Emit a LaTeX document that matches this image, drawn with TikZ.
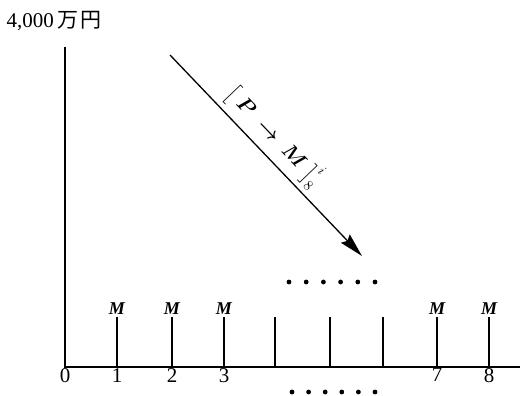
\documentclass[tikz,border=0pt]{standalone}
\usepackage{fontspec}
\setmainfont{Liberation Serif}
\newfontfamily\cjk{Noto Sans CJK JP}
\usepackage{amsmath}
\usepackage{bm}
\usetikzlibrary{arrows.meta,positioning}

\begin{document}
\begin{tikzpicture}[
  x=1pt, y=-1pt,
  every node/.style={font=\fontsize{21}{23}\selectfont},
  axis/.style={line width=2.6pt},
  bar/.style={line width=1.3pt},
  mlabel/.style={font=\fontsize{18}{20}\selectfont\bfseries\itshape, inner sep=2pt},
  numlabel/.style={below, inner sep=1pt},
  >=Stealth
]

\useasboundingbox (0,0) rectangle (520,396);

\node[anchor=west] (title) at (3,21) {4,000\kern4pt{\cjk\fontsize{21}{23}\selectfont 万\kern2pt 円}};

% Axes
\coordinate (origin) at (65,367);
\coordinate (ytop) at (65,47);
\coordinate (xend) at (520,367);
\draw[axis] (ytop) -- (origin) -- (xend);
\node[numlabel] (n0) at (origin) {0};

% Payment bars
\foreach \x [count=\i] in {117,172,224,275,330,383,437,489} {
  \coordinate (b\i) at (\x,367);
  \draw[bar] (b\i) -- ++(0,-50) coordinate (t\i);
}

\foreach \i/\lbl in {1/1,2/2,3/3,7/7,8/8} {
  \node[mlabel, above] (m\i) at (t\i) {M};
  \node[numlabel] (n\i) at (b\i) {\lbl};
}

% Dots
\foreach \k in {0,...,5} {
  \fill (289+\k*17.2,282) circle (2.4);
  \fill (292+\k*16.6,392) circle (2.4);
}

% Discount arrow
\coordinate (astart) at (170,55);
\coordinate (aend) at (362,256);
\draw[->, line width=1.3pt, >={Stealth[length=24pt,width=12pt,inset=3pt]}] (astart) -- (aend)
  node[pos=0.47, sloped, above=1pt, font=\fontsize{21}{23}\selectfont] (formula)
  {$\big[\;\bm{P}\;\bm{\rightarrow}\;\bm{M}\;\big]^{i}_{8}$};

\end{tikzpicture}
\end{document}
